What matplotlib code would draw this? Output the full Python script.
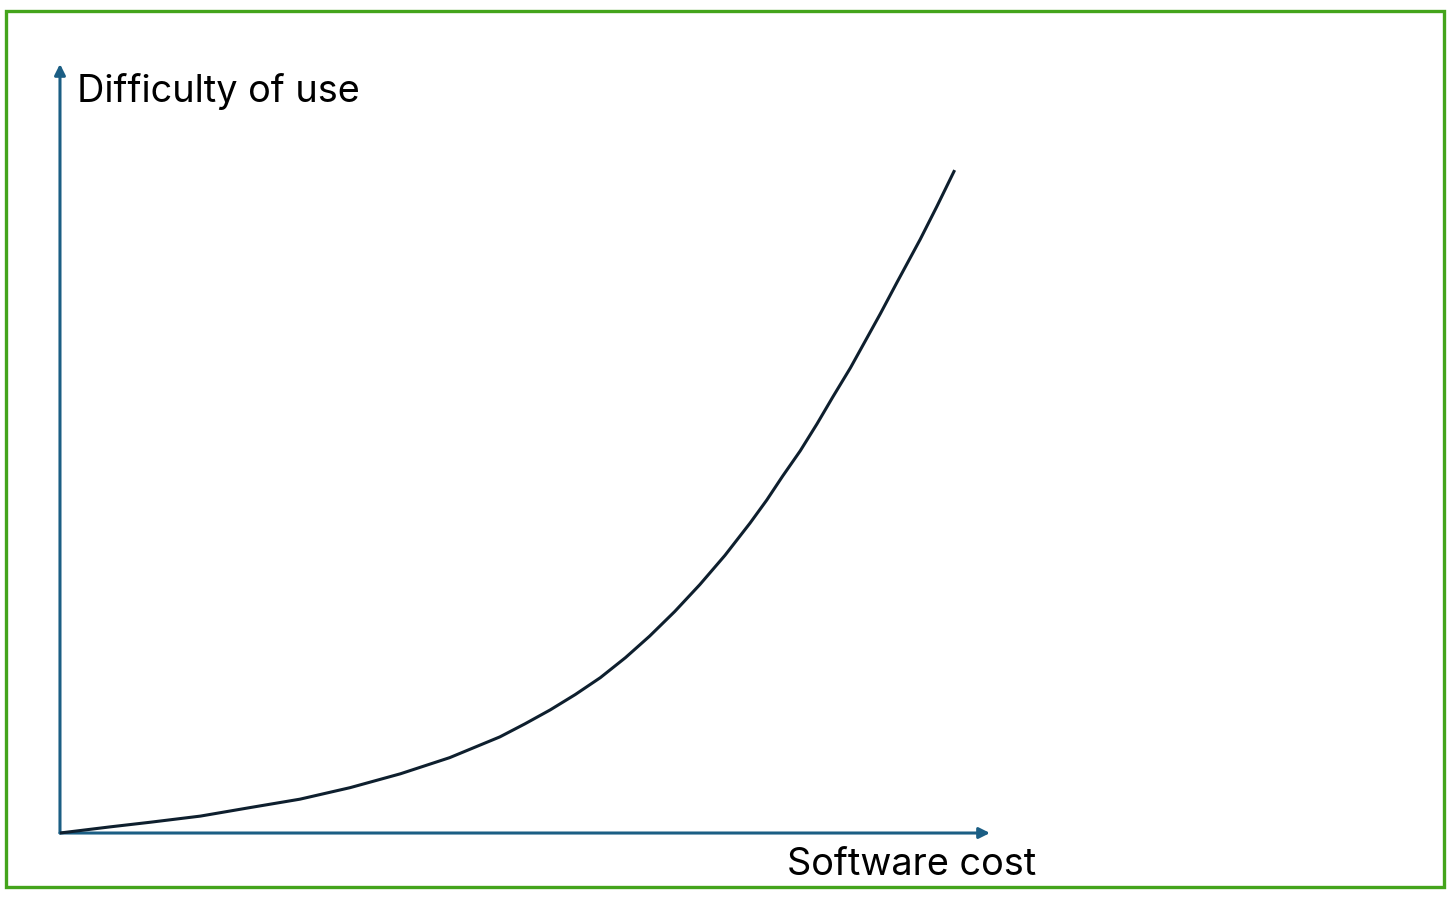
import matplotlib.pyplot as plt
from matplotlib.patches import Rectangle

# Values (arbitrary units, 0-100 along each axis)
software_cost = [0, 5.4, 9.7, 15.1, 20.4, 25.8, 31.2, 36.6, 41.9, 47.3,
                 50.0, 52.7, 55.4, 58.1, 60.8, 63.4, 66.1, 68.8, 71.5, 74.2,
                 76.0, 77.7, 79.6, 81.4, 83.1, 85.0, 86.6, 88.2, 90.0, 92.5,
                 94.3, 96.2]
difficulty = [0, 0.8, 1.4, 2.2, 3.3, 4.4, 5.9, 7.7, 9.8, 12.5,
              14.2, 16.0, 18.0, 20.2, 22.8, 25.6, 28.8, 32.3, 36.1, 40.3,
              43.3, 46.4, 49.7, 53.2, 56.7, 60.5, 64.0, 67.5, 71.6, 77.2,
              81.5, 86.2]

x_label = "Software cost"
y_label = "Difficulty of use"

axis_color = "#1B5E84"
curve_color = "#0E1F2E"
frame_color = "#44A41C"

plt.rcParams['font.family'] = ['Inter', 'DejaVu Sans']

fig = plt.figure(figsize=(14.56, 8.99), dpi=100)
ax = fig.add_axes([0, 0, 1, 1])
ax.set_xlim(-6.45, 150.11)
ax.set_ylim(-8.58, 108.32)
ax.axis("off")

# green frame around the whole picture
fig.add_artist(Rectangle((6 / 1456, 12 / 899), 1438 / 1456, 876 / 899,
                         transform=fig.transFigure, fill=False,
                         edgecolor=frame_color, linewidth=2.4))

# axes drawn as arrows
arrow = dict(arrowstyle="-|>", color=axis_color, lw=2.2,
             mutation_scale=16, shrinkA=0, shrinkB=0)
ax.annotate("", xy=(100, 0), xytext=(0, 0), arrowprops=arrow)
ax.annotate("", xy=(0, 100), xytext=(0, 0), arrowprops=arrow)

ax.plot(software_cost, difficulty, color=curve_color, linewidth=2.2,
        solid_joinstyle="round", solid_capstyle="butt", zorder=5)

ax.text(1.8, 95.1, y_label, fontsize=27.3, va="baseline", ha="left", color="black")
ax.text(78.2, -5.5, x_label, fontsize=27.3, va="baseline", ha="left", color="black")

fig.savefig("out.png", dpi=100)
